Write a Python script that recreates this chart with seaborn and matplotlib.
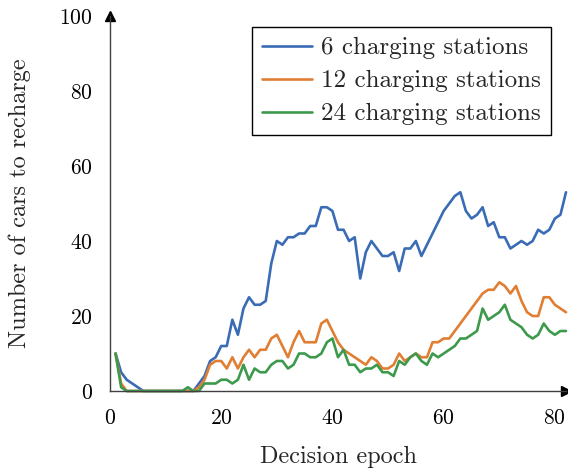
import numpy as np
import pandas as pd
import matplotlib
matplotlib.use("Agg")
import matplotlib.pyplot as plt
import seaborn as sns

# Data (decision epochs 1..82)
epochs = list(range(1, 83))
cars_6 = [10, 5, 3, 2, 1, 0, 0, 0, 0, 0, 0, 0, 0, 0, 0, 2, 4, 8, 9, 12,
          12, 19, 15, 22, 25, 23, 23, 24, 34, 40, 39, 41, 41, 42, 42, 44, 44, 49, 49, 48,
          43, 43, 40, 41, 30, 37, 40, 38, 36, 36, 37, 32, 38, 38, 40, 36, 39, 42, 45, 48,
          50, 52, 53, 48, 46, 47, 49, 44, 45, 41, 41, 38, 39, 40, 39, 40, 43, 42, 43, 46,
          47, 53]
cars_12 = [10, 2, 0, 0, 0, 0, 0, 0, 0, 0, 0, 0, 0, 0, 0, 1, 3, 7, 8, 8,
           6, 9, 6, 9, 11, 9, 11, 11, 14, 15, 12, 9, 13, 16, 13, 13, 13, 18, 19, 16,
           13, 11, 10, 9, 8, 7, 9, 8, 6, 6, 7, 10, 8, 9, 10, 9, 9, 13, 13, 14,
           14, 16, 18, 20, 22, 24, 26, 27, 27, 29, 28, 26, 28, 24, 21, 20, 20, 25, 25, 23,
           22, 21]
cars_24 = [10, 1, 0, 0, 0, 0, 0, 0, 0, 0, 0, 0, 0, 1, 0, 0, 2, 2, 2, 3,
           3, 2, 3, 7, 3, 6, 5, 5, 7, 8, 8, 6, 7, 10, 10, 9, 9, 10, 13, 14,
           9, 11, 7, 7, 5, 6, 6, 7, 5, 5, 4, 8, 7, 9, 10, 8, 7, 10, 9, 10,
           11, 12, 14, 14, 15, 16, 22, 19, 20, 21, 23, 19, 18, 17, 15, 14, 15, 18, 16, 15,
           16, 16]
series_names = ["6 charging stations", "12 charging stations", "24 charging stations"]
colors = ["#3a6cb6", "#e07e33", "#3d9a4d"]

df = pd.DataFrame({
    "epoch": epochs * 3,
    "cars": cars_6 + cars_12 + cars_24,
    "series": [s for s in series_names for _ in epochs],
})

sns.set_style("white")
plt.rcParams["font.family"] = ["cmr10", "DejaVu Serif"]
plt.rcParams["axes.formatter.use_mathtext"] = True

fig = plt.figure(figsize=(5.68, 4.73), dpi=100)
ax = fig.add_axes([110 / 568, 82 / 473, 456 / 568, 375 / 473])

sns.lineplot(data=df, x="epoch", y="cars", hue="series", hue_order=series_names,
             palette=colors, linewidth=1.9, ax=ax, clip_on=False)

ax.set_xlim(0, 82)
ax.set_ylim(0, 100)
ax.set_xticks([0, 20, 40, 60, 80])
ax.set_yticks([0, 20, 40, 60, 80, 100])
ax.set_xlabel("Decision epoch", fontsize=17.5, labelpad=13)
ax.set_ylabel("Number of cars to recharge", fontsize=17.5, labelpad=20)

# pgfplots-style axis lines with arrows
for side in ["top", "right"]:
    ax.spines[side].set_visible(False)
for side in ["left", "bottom"]:
    ax.spines[side].set_color("#404040")
    ax.spines[side].set_linewidth(1.0)
ax.plot(1, 0, ">", color="black", markersize=7, transform=ax.get_yaxis_transform(), clip_on=False)
ax.plot(0, 1, "^", color="black", markersize=7, transform=ax.get_xaxis_transform(), clip_on=False)

ax.tick_params(axis="both", direction="inout", length=9, width=0.7, color="#b8b8b8",
               labelsize=15.5, pad=8, labelcolor="black")

leg = ax.legend(loc="upper right", bbox_to_anchor=(0.967, 0.971), borderaxespad=0,
                fancybox=False, edgecolor="black", framealpha=1, fontsize=18,
                handlelength=2.0, handletextpad=0.35, labelspacing=0.42, borderpad=0.4)
leg.get_frame().set_linewidth(1.0)
leg.set_title(None)

fig.savefig("out.png", dpi=100)
